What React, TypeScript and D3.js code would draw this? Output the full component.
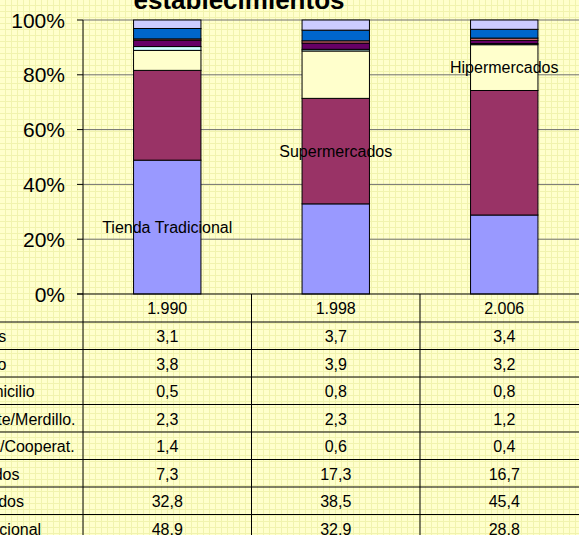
import React from 'react';
import * as d3 from 'd3';

const years = ['1.990', '1.998', '2.006'];
const seriesNames = [
  'Tienda Tradicional',
  'Supermercados',
  'Hipermercados',
  'Economatos/Cooperat.',
  'Vt. Ambulante/Merdillo.',
  'Venta a Domicilio',
  'Tienda Barrio',
  'Otras tiendas',
];
const tiendaTradicional = [48.9, 32.9, 28.8];
const supermercados = [32.8, 38.5, 45.4];
const hipermercados = [7.3, 17.3, 16.7];
const economatos = [1.4, 0.6, 0.4];
const ambulante = [2.3, 2.3, 1.2];
const domicilio = [0.5, 0.8, 0.8];
const barrio = [3.8, 3.9, 3.2];
const otras = [3.1, 3.7, 3.4];
const seriesValues = [tiendaTradicional, supermercados, hipermercados, economatos, ambulante, domicilio, barrio, otras];
const seriesColors = ['#9999FF', '#993366', '#FFFFCC', '#CCFFFF', '#660066', '#FF8080', '#0066CC', '#CCCCFF'];
const yTicks = [0, 20, 40, 60, 80, 100];
const inBarLabels = [
  { series: 0, year: 0 },
  { series: 1, year: 1 },
  { series: 2, year: 2 },
];
const titleLine = 'establecimientos';

const W = 579;
const H = 535;
const plotLeft = 83;
const plotRight = 588.5;
const plotTop = 20;
const plotBottom = 294;
const headerH = 28;
const rowH = 27.5;
const FONT = 'Arial, "Liberation Sans", sans-serif';

export default function App() {
  const x = d3.scaleBand<string>().domain(years).range([plotLeft, plotRight]).padding(0);
  const barW = x.bandwidth() * 0.4;
  const y = d3.scaleLinear().domain([0, 100]).range([plotBottom, plotTop]);

  const table = years.map((yr, i) => {
    const row: Record<string, number | string> = { year: yr };
    seriesNames.forEach((s, k) => (row[s] = seriesValues[k][i]));
    return row;
  });
  const stack = d3.stack<any>().keys(seriesNames).offset(d3.stackOffsetExpand);
  const layers = stack(table as any);

  const fmt = (v: number) => d3.format('.1f')(v).replace('.', ',');
  const rowsTopDown = seriesNames.map((_, i) => i).reverse();
  const tableTop = plotBottom + headerH;
  const labelX = -89;

  return (
    <svg width={W} height={H} style={{ position: 'absolute', left: 0, top: 0 }} fontFamily={FONT}>
      <defs>
        <pattern id="bggrid" width={6} height={6} patternUnits="userSpaceOnUse">
          <rect width={6} height={6} fill="#FFFFCC" />
          <path d="M5.5 0V6M0 5.5H6" stroke="#F1F3AE" strokeWidth={1} />
        </pattern>
      </defs>
      <rect width={W} height={H} fill="url(#bggrid)" />

      <text x={239} y={9} textAnchor="middle" fontSize={26} fontWeight="bold" fill="#000">
        {titleLine}
      </text>

      {/* gridlines */}
      {yTicks.filter((t) => t > 0).map((t) => (
        <line key={t} x1={plotLeft} x2={plotRight} y1={y(t)} y2={y(t)} stroke="#707070" strokeWidth={1} />
      ))}

      {/* bars */}
      {layers.map((layer, k) => (
        <g key={seriesNames[k]}>
          {layer.map((d, i) => {
            const cx = (x(years[i]) as number) + x.bandwidth() / 2;
            return (
              <rect
                key={i}
                x={cx - barW / 2}
                y={y(d[1] * 100)}
                width={barW}
                height={y(d[0] * 100) - y(d[1] * 100)}
                fill={seriesColors[k]}
                stroke="#000"
                strokeWidth={1}
              />
            );
          })}
        </g>
      ))}

      {/* in-bar labels */}
      {inBarLabels.map((l) => {
        const d = layers[l.series][l.year];
        const cx = (x(years[l.year]) as number) + x.bandwidth() / 2;
        const cy = y(((d[0] + d[1]) / 2) * 100);
        return (
          <text key={l.series} x={cx} y={cy + 5.5} textAnchor="middle" fontSize={16} fill="#000">
            {seriesNames[l.series]}
          </text>
        );
      })}

      {/* y axis */}
      <line x1={plotLeft} x2={plotLeft} y1={plotTop} y2={H} stroke="#000" strokeWidth={1} />
      {yTicks.map((t) => (
        <g key={t}>
          <line x1={plotLeft - 6} x2={plotLeft} y1={y(t)} y2={y(t)} stroke="#000" />
          <text x={65} y={y(t) + 7.5} textAnchor="end" fontSize={21} fill="#000">
            {t}%
          </text>
        </g>
      ))}

      {/* table */}
      <line x1={plotLeft - 6} x2={W} y1={plotBottom} y2={plotBottom} stroke="#000" strokeWidth={1.2} />
      {years.map((yr) => {
        const x0 = x(yr) as number;
        return (
          <g key={yr}>
            <line x1={x0 + x.bandwidth()} x2={x0 + x.bandwidth()} y1={plotBottom} y2={H} stroke="#000" />
            <text x={x0 + x.bandwidth() / 2} y={plotBottom + headerH / 2 + 6} textAnchor="middle" fontSize={16} fill="#000">
              {yr}
            </text>
          </g>
        );
      })}
      {rowsTopDown.map((k, r) => {
        const top = tableTop + r * rowH;
        return (
          <g key={seriesNames[k]}>
            <line x1={0} x2={W} y1={top} y2={top} stroke="#000" strokeWidth={1} />
            <text x={labelX} y={top + rowH / 2 + 6.5} fontSize={16} fill="#000">
              {seriesNames[k]}
            </text>
            {years.map((yr, i) => (
              <text
                key={yr}
                x={(x(yr) as number) + x.bandwidth() / 2}
                y={top + rowH / 2 + 6.5}
                textAnchor="middle"
                fontSize={16}
                fill="#000"
              >
                {fmt(seriesValues[k][i])}
              </text>
            ))}
          </g>
        );
      })}
    </svg>
  );
}
